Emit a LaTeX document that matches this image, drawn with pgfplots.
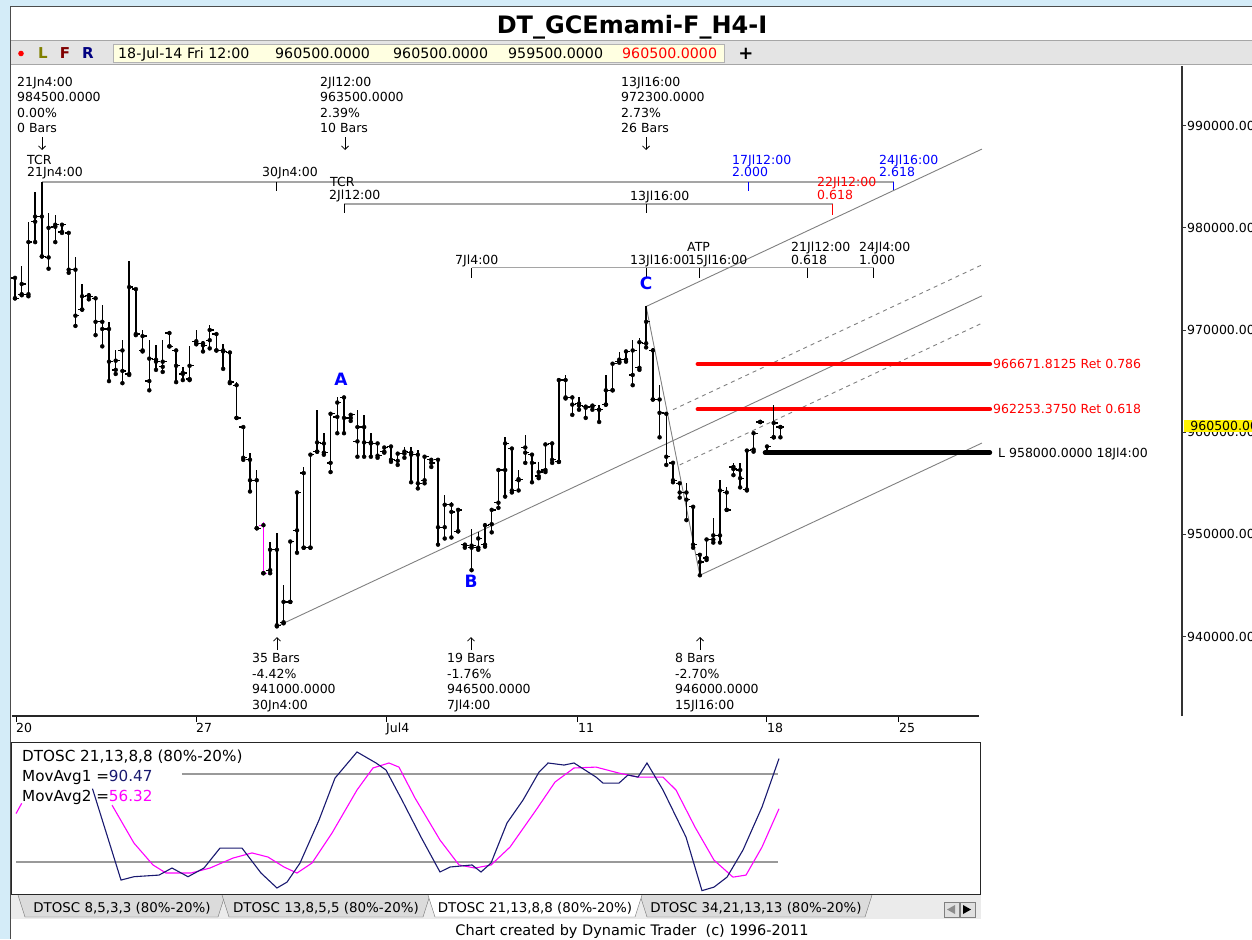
\documentclass[border=0pt]{standalone}
\usepackage{pgfplots}
\pgfplotsset{compat=1.18}
\usepackage{pgfplotstable}
\usepackage{fontspec}
\setmainfont{DejaVu Sans}
\usetikzlibrary{arrows.meta}

\definecolor{bgblue}{RGB}{212,236,248}
\definecolor{navyosc}{RGB}{25,25,112}
\definecolor{oliveL}{RGB}{128,128,0}
\definecolor{darkF}{RGB}{128,0,0}
\definecolor{navyR}{RGB}{0,0,128}
\definecolor{tbgray}{RGB}{228,228,228}
\definecolor{tbyellow}{RGB}{255,255,225}
\definecolor{lgray}{RGB}{128,128,128}
\definecolor{tcrgray}{RGB}{165,165,165}
\definecolor{abcblue}{RGB}{0,0,255}
\definecolor{mag}{RGB}{255,0,255}

\pgfplotstableread{
i o h l c
0 975100 975100 973100 973100
1 973500 976300 973400 974500
2 973500 980600 973300 978600
3 980600 983500 978600 981100
4 981100 984500 977200 977200
5 977100 981400 976000 980000
6 980100 981300 978600 980300
7 979600 980400 979500 980300
8 979500 979600 975600 975900
9 975900 977100 970400 971400
10 972000 974500 972000 973300
11 973400 973600 973000 973300
12 973100 973300 969500 970800
13 970800 972400 968400 970100
14 970100 970800 965000 966900
15 966100 968000 965700 967000
16 968000 969000 964800 966000
17 965700 976800 965600 974200
18 974000 974100 969500 969600
19 968000 970000 967900 969400
20 965000 969000 964100 967200
21 967100 968500 966100 966900
22 966400 969000 965900 966900
23 969700 969700 968400 968400
24 968000 968100 964900 966500
25 965700 966400 965100 965800
26 965200 968400 965100 966500
27 968900 970000 968600 968700
28 968700 968900 967900 968500
29 969000 970500 968200 970000
30 969600 969700 968000 968000
31 968000 968600 966200 967900
32 967800 967900 964800 964900
33 964600 964900 961400 961400
34 960500 960500 957300 957500
35 957300 958000 954200 955300
36 955300 956300 950600 950600
38 946500 949300 946200 948500
39 948500 950100 941000 941100
40 941400 945000 941300 943400
41 943400 949300 943400 949300
42 950400 954100 948200 954100
43 956000 956600 948700 948700
44 948700 957800 948700 957800
45 958100 962200 958100 959000
46 958900 959900 957800 958000
47 957000 961900 956100 961800
48 961500 963400 959900 962900
49 963400 963500 959900 961400
50 961400 961900 961100 961700
51 959100 962200 957600 960500
52 960500 961700 957600 959000
53 959000 959900 957600 958900
54 958900 959000 957500 957700
55 958100 958600 958000 958500
56 958600 958700 957100 957300
57 957200 958100 956800 957900
58 957900 958600 957500 958100
59 958000 958600 955100 957800
60 957800 958300 954500 955000
61 955300 957800 955000 957600
62 957300 957500 956600 957000
63 957300 957500 949000 950700
64 950700 953900 949600 952900
65 952900 953200 949700 952200
66 950300 952500 950300 952400
67 949000 949200 948700 948900
68 948700 950500 946500 948900
69 948700 950200 948500 949600
70 949000 951100 948800 950900
71 951000 952400 950200 952400
72 953100 956500 952600 956300
73 956300 959500 953700 958900
74 958400 958500 954100 954300
75 955300 956300 954300 955400
76 958500 959700 957000 958000
77 957800 958000 955100 957000
78 955700 957100 955500 956100
79 956300 958900 956100 958800
80 958900 959000 957000 957300
81 957100 965300 957100 965100
82 965100 965600 963300 963400
83 963400 963400 961700 962700
84 962800 963400 962200 962600
85 962500 962700 961400 962400
86 962500 962700 962200 962600
87 962200 962700 961000 962200
88 962700 965600 962700 964100
89 964100 966800 964100 966700
90 966900 967800 966800 967100
91 967100 968000 966900 967900
92 965600 969000 964600 968000
93 966300 969200 966100 968800
94 968700 972300 968300 970800
95 968000 968200 963200 963200
96 963200 964600 959500 961900
97 961800 962000 956800 957600
98 957000 957100 955100 955300
99 955000 955100 953600 954100
100 954100 955000 951400 953400
101 952700 952900 948700 949000
102 948000 948200 946000 947300
103 947700 949600 947500 949500
104 949500 951600 949200 949900
105 949900 955300 949200 954300
106 954100 954600 952400 952400
107 956600 957000 955800 956400
108 956300 957000 954600 955500
109 954400 958300 954300 958200
110 958300 960000 958100 959900
111 961000 961000 961000 961000
112 958000 958600 958000 958600
113 959500 962700 959500 960900
114 960500 960500 959500 960500
}\bars

\pgfplotstableread{
i o h l c
37 950900 951200 946200 946200
}\magbar

\pgfplotstableread{
i v
11.54 70
15.79 7.7
17.72 10.0
21.45 11.1
23.38 15.9
25.77 10.0
28.15 15.9
30.53 29.5
33.81 29.5
36.64 12.5
39.02 2.3
40.51 6.3
42.45 19.3
45.28 48.6
47.66 77.2
50.94 95.0
53.77 87.5
55.26 82.7
57.64 62.2
60.47 37.0
63.30 13.2
64.79 16.6
68.07 18.0
69.41 13.2
70.90 19.3
73.28 46.6
75.66 62.2
78.05 81.3
79.39 87.5
81.77 86.1
83.26 87.5
86.54 77.9
87.58 73.8
89.96 73.8
91.30 79.3
92.79 77.9
94.13 87.5
96.51 69.1
99.94 37.0
102.32 0.5
104.11 2.9
106.05 9.7
108.43 28.2
111.26 57.5
113.79 90.47
}\oscnavy

\pgfplotstableread{
i v
14.45 58.8
17.72 32.9
20.55 18.0
22.49 12.5
26.21 12.5
29.04 15.9
32.47 22.7
35.30 26.2
37.68 23.4
40.07 16.6
42.00 12.5
44.24 19.3
47.21 39.7
50.94 69.1
53.32 84.1
55.70 87.5
57.19 84.7
59.58 63.6
63.30 35.0
66.13 18.0
68.51 15.9
70.90 18.0
73.73 30.2
77.60 55.4
80.43 74.5
83.26 84.1
86.54 84.7
89.96 80.6
92.79 77.9
96.51 77.9
98.45 69.1
101.28 43.8
104.11 21.3
106.94 9.7
108.88 11.1
111.26 30.2
113.79 56.32
}\oscmag

\newcommand\fs{\fontsize{12.5}{15}\selectfont}
\newcommand\fleg{\fontsize{15.2}{18}\selectfont}
\newcommand\ftab{\fontsize{13.4}{16}\selectfont}
\newcommand\ftb{\fontsize{14.2}{17}\selectfont}
\newcommand\tl[3]{\node[anchor=base west, inner sep=0pt, font=\fs] at (#1,-#2) {#3};}
\newcommand\ctl[4]{\node[anchor=base west, inner sep=0pt, font=\fs, text=#1] at (#2,-#3) {#4};}

\pgfplotsset{
  ohlcvert/.style={only marks, mark=none, forget plot,
    error bars/.cd, y dir=plus, y explicit, error mark=none,
    error bar style={line width=1.5pt, #1}},
  ohlcopen/.style={only marks, mark=none, forget plot,
    error bars/.cd, x dir=minus, x fixed=0.6, error mark=none,
    error bar style={line width=1.3pt, #1}},
  ohlcclose/.style={only marks, mark=none, forget plot,
    error bars/.cd, x dir=plus, x fixed=0.6, error mark=none,
    error bar style={line width=1.3pt, #1}},
}

\begin{document}
\begin{tikzpicture}[x=1pt,y=1pt]
\useasboundingbox (0,0) rectangle (1252,-939);
% window background
\fill[bgblue] (0,0) rectangle (1252,-939);
\fill[white] (10,-7) rectangle (1252,-939);
% toolbar
\fill[tbgray] (11,-41) rectangle (1252,-64);
\draw[black!35] (11,-40.5) -- (1252,-40.5);
\draw[black!35] (11,-64.5) -- (1252,-64.5);
\fill[tbyellow] (113,-44) rectangle (724,-62);
\draw[black!30] (113,-44) rectangle (724,-62);
% tab strip
\fill[black!8] (11,-895) rectangle (981,-919);
\draw[black!55, fill=black!14] (18,-895) -- (25,-917) -- (218,-917) -- (225,-895);
\draw[black!55, fill=black!14] (222,-895) -- (229,-917) -- (423,-917) -- (430,-895);
\draw[black!55, fill=black!14] (640,-895) -- (647,-917) -- (865,-917) -- (872,-895);
\draw[black!55, fill=white] (428,-895) -- (435,-917) -- (635,-917) -- (642,-895);
\draw[black!50, fill=black!12] (944,-902) rectangle (959,-917);
\draw[black!50, fill=black!12] (960,-902) rectangle (975,-917);
\fill[black!45] (947,-909.5) -- (955,-905) -- (955,-914) -- cycle;
\fill[black] (971,-909.5) -- (963,-905) -- (963,-914) -- cycle;
% window border
\draw[black!70, line width=1.5pt] (10.5,-939) -- (10.5,-6.5) -- (1252,-6.5);

% ---------------- main price axis ----------------
\begin{axis}[
  at={(12pt,-716pt)}, anchor=south west,
  scale only axis, width=1170pt, height=650pt,
  xmin=-0.447, xmax=173.81, ymin=932230, ymax=995832,
  axis x line=none, axis y line*=right,
  axis line style={-, line width=1.3pt, black!80},
  scaled y ticks=false,
  ytick={940000,950000,960000,970000,980000,990000},
  yticklabels={940000.00,950000.00,960000.00,970000.00,980000.00,990000.00},
  tick align=outside, major tick length=4pt,
  tick style={black!80, line width=0.8pt},
  yticklabel style={font=\fs, anchor=west, inner sep=1pt},
  clip=false,
]
% time cycle lines
\addplot[tcrgray, line width=1.6pt] coordinates {(4,984500) (130.9,984500)};
\addplot[tcrgray, line width=1.6pt] coordinates {(49,982300) (121.8,982300)};
\addplot[tcrgray, line width=1.6pt] coordinates {(68,976100) (127.9,976100)};
\draw[black, line width=1pt] (39,984500) -- (39,983600);
\draw[abcblue, line width=1pt] (109.2,984500) -- (109.2,983600);
\draw[abcblue, line width=1pt] (130.9,984500) -- (130.9,983600);
\draw[black, line width=1pt] (49,982300) -- (49,981400);
\draw[black, line width=1pt] (94,982300) -- (94,981400);
\draw[red, line width=1pt] (121.8,982300) -- (121.8,981300);
\draw[black, line width=1pt] (68,976100) -- (68,975100);
\draw[black, line width=1pt] (94,976100) -- (94,975100);
\draw[black, line width=1pt] (102,976100) -- (102,975100);
\draw[black, line width=1pt] (118,976100) -- (118,975100);
\draw[black, line width=1pt] (127.9,976100) -- (127.9,975100);
% pitchfork lines
\addplot[lgray, line width=0.9pt] coordinates {(94,972300) (144,987700)};
\addplot[lgray, line width=0.9pt, dash pattern=on 4pt off 4pt] coordinates {(98,962200) (144,976370)};
\addplot[lgray, line width=0.9pt] coordinates {(39,941000) (144,973340)};
\addplot[lgray, line width=0.9pt, dash pattern=on 4pt off 4pt] coordinates {(99,956800) (144,970660)};
\addplot[lgray, line width=0.9pt] coordinates {(102,946000) (144,958936)};
\addplot[lgray, line width=0.9pt] coordinates {(94,972300) (102,946000)};
% retracement lines
\addplot[red, line width=4.5pt, line cap=round] coordinates {(101.7,966671.8125) (145.2,966671.8125)};
\addplot[red, line width=4.5pt, line cap=round] coordinates {(101.7,962253.375) (145.2,962253.375)};
\addplot[black, line width=4.5pt, line cap=round] coordinates {(111.7,958000) (145.2,958000)};
% OHLC bars: high-low lines, open ticks (left), close ticks (right)
\addplot[ohlcvert=black] table[x=i, y=l, y error plus expr=\thisrow{h}-\thisrow{l}] {\bars};
\addplot[ohlcopen=black] table[x=i, y=o] {\bars};
\addplot[ohlcclose=black] table[x=i, y=c] {\bars};
\addplot[ohlcvert=mag] table[x=i, y=l, y error plus expr=\thisrow{h}-\thisrow{l}] {\magbar};
\addplot[ohlcopen=mag] table[x=i, y=o] {\magbar};
\addplot[ohlcclose=mag] table[x=i, y=c] {\magbar};
\end{axis}

% ---------------- date axis ----------------
\begin{axis}[
  at={(12pt,-716pt)}, anchor=south west,
  scale only axis, width=967pt, height=10pt,
  xmin=-0.447, xmax=143.58, ymin=0, ymax=1,
  axis x line*=bottom, axis y line=none,
  axis line style={-, line width=1.4pt, black!85},
  xtick={0.15,26.96,55.26,83.85,112.0,131.66},
  xticklabels={20,27,Jul4,11,18,25},
  tick align=outside, major tick length=6pt,
  tick style={black, line width=1pt},
  xticklabel style={anchor=north west, inner sep=1pt, xshift=-1pt, font=\fs},
]
\addplot[draw=none] coordinates {(0,0.5)};
\end{axis}

% ---------------- oscillator ----------------
\begin{axis}[
  at={(12pt,-894pt)}, anchor=south west,
  scale only axis, width=968pt, height=152pt,
  xmin=-0.447, xmax=143.73, ymin=-1.8, ymax=101.8,
  xtick=\empty, ytick=\empty,
  axis line style={black!85, line width=1pt},
]
\addplot[black!40, line width=1.3pt] coordinates {(24.87,80) (113.64,80)};
\addplot[black!40, line width=1.3pt] coordinates {(0.15,20) (113.64,20)};
\addplot[mag, line width=1.1pt] coordinates {(0.15,53) (1.0,60)};
\addplot[mag, line width=1.1pt] table[x=i, y=v] {\oscmag};
\addplot[navyosc, line width=1.1pt] table[x=i, y=v] {\oscnavy};
\end{axis}

% ---------------- texts ----------------
% title and toolbar
\node[anchor=base, inner sep=0pt, font=\fontsize{24}{28}\selectfont\bfseries] at (632,-33.5) {DT\_GCEmami-F\_H4-I};
\fill[red] (21,-53.5) circle (2.8);
\node[anchor=base, inner sep=0pt, font=\fontsize{15}{17}\selectfont\bfseries, text=oliveL] at (43,-59) {L};
\node[anchor=base, inner sep=0pt, font=\fontsize{15}{17}\selectfont\bfseries, text=darkF] at (65,-59) {F};
\node[anchor=base, inner sep=0pt, font=\fontsize{15}{17}\selectfont\bfseries, text=navyR] at (88,-59) {R};
\node[anchor=base west, inner sep=0pt, font=\ftb] at (118,-58.2) {18-Jul-14 Fri 12:00};
\node[anchor=base west, inner sep=0pt, font=\ftb] at (275,-58.2) {960500.0000};
\node[anchor=base west, inner sep=0pt, font=\ftb] at (393,-58.2) {960500.0000};
\node[anchor=base west, inner sep=0pt, font=\ftb] at (508,-58.2) {959500.0000};
\node[anchor=base west, inner sep=0pt, font=\ftb, text=red] at (622,-58.2) {960500.0000};
\node[anchor=base, inner sep=0pt, font=\fontsize{18}{20}\selectfont\bfseries] at (746,-59.5) {+};

% top swing annotations
\tl{17}{86.5}{21Jn4:00}\tl{17}{101.8}{984500.0000}\tl{17}{117.1}{0.00\%}\tl{17}{132.4}{0 Bars}
\tl{320}{86.5}{2Jl12:00}\tl{320}{101.8}{963500.0000}\tl{320}{117.1}{2.39\%}\tl{320}{132.4}{10 Bars}
\tl{621}{86.5}{13Jl16:00}\tl{621}{101.8}{972300.0000}\tl{621}{117.1}{2.73\%}\tl{621}{132.4}{26 Bars}
\draw[-{Straight Barb[length=3.5pt,width=7pt]}, line width=0.8pt] (42,-137) -- (42,-150);
\draw[-{Straight Barb[length=3.5pt,width=7pt]}, line width=0.8pt] (345,-137) -- (345,-150);
\draw[-{Straight Barb[length=3.5pt,width=7pt]}, line width=0.8pt] (646,-137) -- (646,-150);

% time line labels
\tl{27}{164}{TCR}\tl{27}{176.5}{21Jn4:00}
\tl{262}{176.5}{30Jn4:00}
\tl{330}{186.5}{TCR}\tl{329}{199.5}{2Jl12:00}
\tl{630}{200.5}{13Jl16:00}
\ctl{abcblue}{732}{164.5}{17Jl12:00}\ctl{abcblue}{732}{176.5}{2.000}
\ctl{abcblue}{879}{164.5}{24Jl16:00}\ctl{abcblue}{879}{176.5}{2.618}
\ctl{red}{817}{186.5}{22Jl12:00}\ctl{red}{817}{199.5}{0.618}
\tl{455}{264.5}{7Jl4:00}
\tl{630}{264.5}{13Jl16:00}
\tl{687}{251.5}{ATP}\tl{688}{264.5}{15Jl16:00}
\tl{791}{251.5}{21Jl12:00}\tl{791}{264.5}{0.618}
\tl{859}{251.5}{24Jl4:00}\tl{859}{264.5}{1.000}

% wave labels
\node[font=\fontsize{17}{20}\selectfont\bfseries, text=abcblue, inner sep=0pt] at (341,-379) {A};
\node[font=\fontsize{17}{20}\selectfont\bfseries, text=abcblue, inner sep=0pt] at (471,-581) {B};
\node[font=\fontsize{17}{20}\selectfont\bfseries, text=abcblue, inner sep=0pt] at (646,-283) {C};

% bottom swing annotations
\draw[-{Straight Barb[length=3.5pt,width=7pt]}, line width=0.8pt] (277,-650) -- (277,-637);
\draw[-{Straight Barb[length=3.5pt,width=7pt]}, line width=0.8pt] (471,-650) -- (471,-637);
\draw[-{Straight Barb[length=3.5pt,width=7pt]}, line width=0.8pt] (700,-650) -- (700,-637);
\tl{252}{662.5}{35 Bars}\tl{252}{678}{-4.42\%}\tl{252}{693.5}{941000.0000}\tl{252}{709}{30Jn4:00}
\tl{447}{662.5}{19 Bars}\tl{447}{678}{-1.76\%}\tl{447}{693.5}{946500.0000}\tl{447}{709}{7Jl4:00}
\tl{675}{662.5}{8 Bars}\tl{675}{678}{-2.70\%}\tl{675}{693.5}{946000.0000}\tl{675}{709}{15Jl16:00}

% retracement labels
\ctl{red}{993}{368.5}{966671.8125 Ret 0.786}
\ctl{red}{993}{413.5}{962253.3750 Ret 0.618}
\tl{998}{457.5}{L 958000.0000 18Jl4:00}

% current price box
\node[fill=yellow, anchor=west, inner sep=1.2pt, font=\fs, minimum width=80pt, align=left] at (1184,-426) {960500.00\hfill};

% oscillator legend
\node[anchor=base west, inner sep=0pt, font=\fleg] at (22,-761.5) {DTOSC 21,13,8,8 (80\%-20\%)};
\node[anchor=base west, inner sep=0pt, font=\fleg] at (22,-781) {MovAvg1 =\textcolor{navyosc}{90.47}};
\node[anchor=base west, inner sep=0pt, font=\fleg] at (22,-801) {MovAvg2 =\textcolor{mag}{56.32}};

% tabs
\node[anchor=base, inner sep=0pt, font=\ftab] at (122,-912.5) {DTOSC 8,5,3,3 (80\%-20\%)};
\node[anchor=base, inner sep=0pt, font=\ftab] at (326,-912.5) {DTOSC 13,8,5,5 (80\%-20\%)};
\node[anchor=base, inner sep=0pt, font=\ftab] at (535,-912.5) {DTOSC 21,13,8,8 (80\%-20\%)};
\node[anchor=base, inner sep=0pt, font=\ftab] at (756,-912.5) {DTOSC 34,21,13,13 (80\%-20\%)};
% footer
\node[anchor=base, inner sep=0pt, font=\fontsize{14.5}{17}\selectfont] at (632,-935.5) {Chart created by Dynamic Trader\ \ (c) 1996-2011};
\end{tikzpicture}
\end{document}
